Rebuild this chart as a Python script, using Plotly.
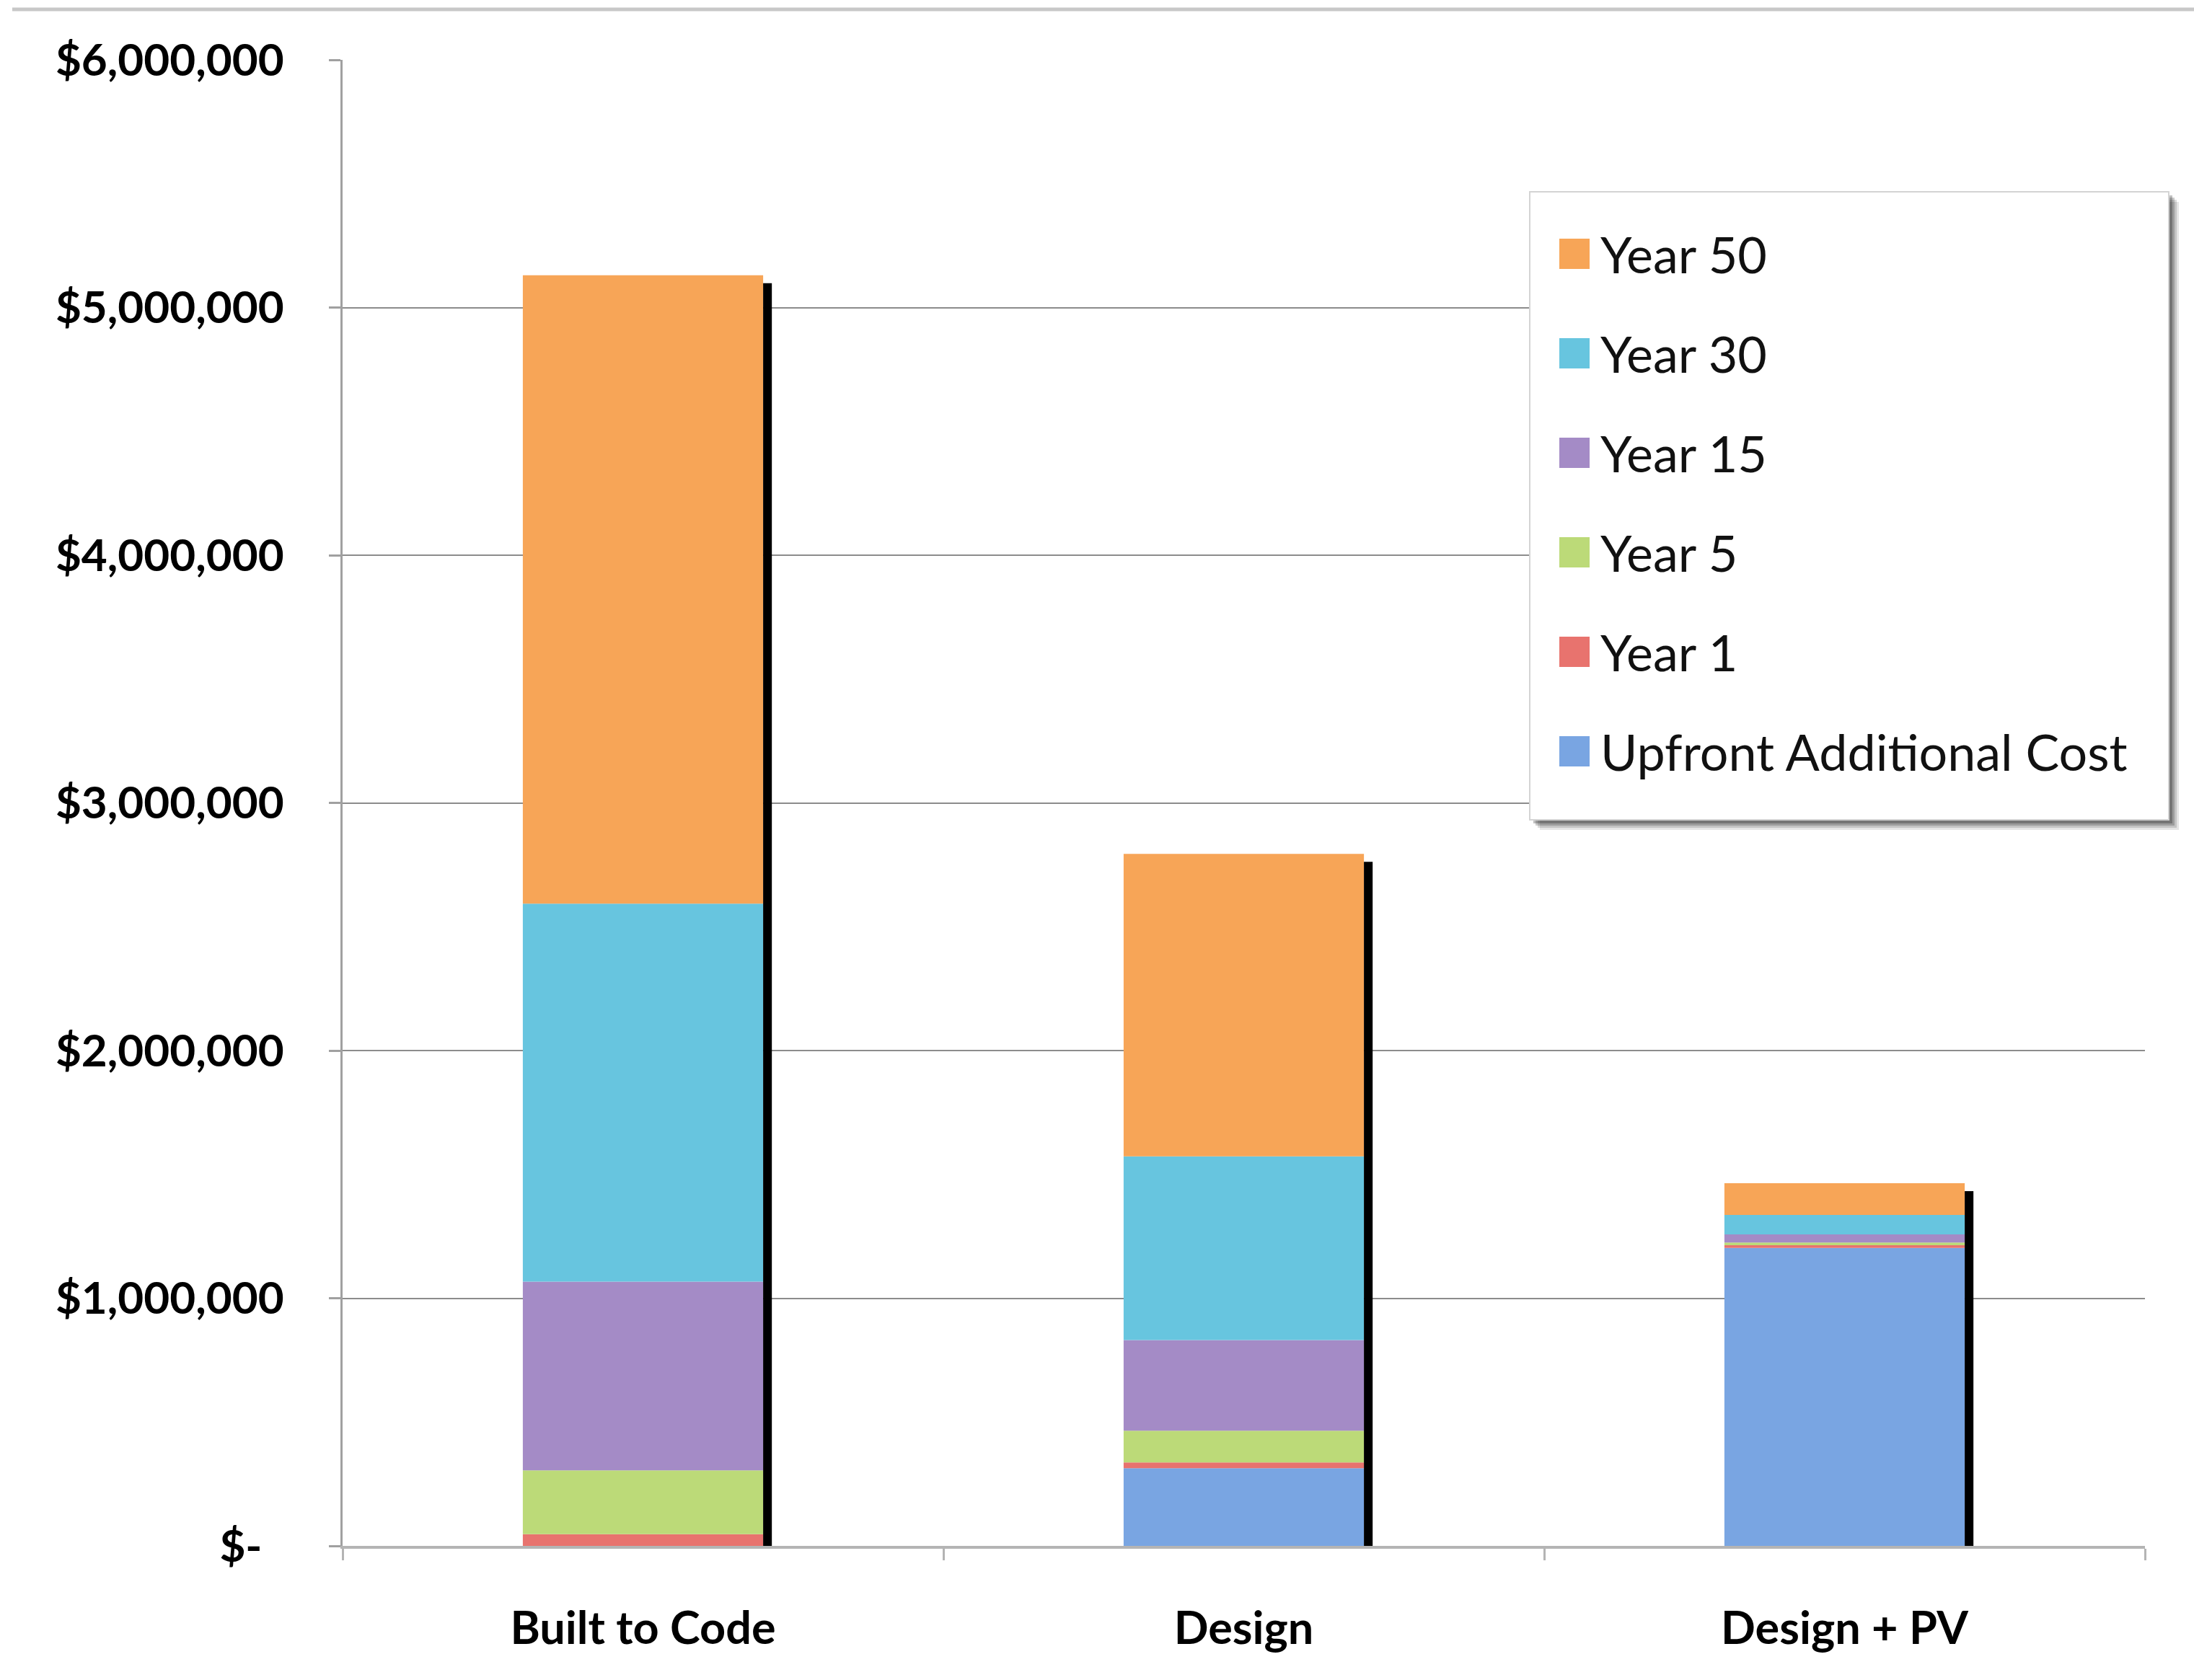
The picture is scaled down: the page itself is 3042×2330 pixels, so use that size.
import numpy as np
import plotly.graph_objects as go

# ---------------- data ----------------
categories = ["Built to Code", "Design", "Design + PV"]
series_names = ["Upfront Additional Cost", "Year 1", "Year 5", "Year 15", "Year 30", "Year 50"]
upfront = [0, 314000, 1203000]
year1 = [47000, 23000, 11000]
year5 = [258000, 128000, 11000]
year15 = [762000, 366000, 33000]
year30 = [1526000, 742000, 78000]
year50 = [2537000, 1221000, 128000]
series_values = [upfront, year1, year5, year15, year30, year50]
tick_vals = [0, 1000000, 2000000, 3000000, 4000000, 5000000, 6000000]
tick_text = ["$-\u00a0\u00a0", "$1,000,000", "$2,000,000", "$3,000,000",
             "$4,000,000", "$5,000,000", "$6,000,000"]

# ---------------- style ----------------
colors = ["#79a5e2", "#e8736e", "#bcda78", "#a48bc6", "#67c5df", "#f7a557"]
FONT = "Lato"
W, H = 3042, 2330
ML, MR, MT, MB = 475, 68, 83, 186
PW, PH = W - ML - MR, H - MT - MB


def px_x(px):
    return (px - ML) / PW


def px_y(py):
    return (H - MB - py) / PH


fig = go.Figure()
base = np.zeros(len(categories))
n = len(series_names)
for i, (name, vals, col) in enumerate(zip(series_names, series_values, colors)):
    v = np.array(vals, dtype=float)
    fig.add_trace(go.Bar(
        x=categories, y=v, base=base.copy(), name=name, legendgroup=name,
        legendrank=100 + (n - i) * 10,
        marker=dict(color=col, line=dict(width=0)), width=0.4,
    ))
    base = base + v

totals = base
# black edge shadow on the right side of each bar
fig.add_trace(go.Bar(
    x=categories, y=totals - 32000, base=np.zeros(len(categories)),
    width=0.0145, offset=0.2, marker=dict(color="#000000", line=dict(width=0)),
    showlegend=False, hoverinfo="skip",
))

# legend frame (box + soft drop shadow)
bx0, bx1, by0, by1 = 2121, 3007, 266, 1137
shapes = []
for off, alpha in [(14, 0.10), (11, 0.14), (8, 0.20), (5, 0.25)]:
    shapes.append(dict(type="rect", xref="paper", yref="paper", layer="above",
                       x0=px_x(bx0 + off), x1=px_x(bx1 + off),
                       y0=px_y(by1 + off), y1=px_y(by0 + off),
                       fillcolor=f"rgba(0,0,0,{alpha})", line=dict(width=0)))
shapes.append(dict(type="rect", xref="paper", yref="paper", layer="above",
                   x0=px_x(bx0), x1=px_x(bx1), y0=px_y(by1), y1=px_y(by0),
                   fillcolor="white", line=dict(color="#d4d4d4", width=2)))
# thin grey frame line at the very top of the slide
shapes.append(dict(type="line", xref="paper", yref="paper",
                   x0=px_x(17), x1=px_x(W), y0=px_y(13), y1=px_y(13),
                   line=dict(color="#c8c8c8", width=5)))

fig.update_layout(
    width=W, height=H, barmode="overlay",
    margin=dict(l=ML, r=MR, t=MT, b=MB, autoexpand=False),
    paper_bgcolor="white", plot_bgcolor="white",
    font=dict(family=FONT, color="#000000"),
    showlegend=True,
    legend=dict(
        x=px_x(2147), y=px_y(300), xanchor="left", yanchor="top",
        bgcolor="rgba(0,0,0,0)", borderwidth=0,
        font=dict(family=FONT, size=70, color="#111111"),
        traceorder="grouped", tracegroupgap=44, itemwidth=62,
    ),
    xaxis=dict(
        type="category", showline=True, linecolor="#b4b4b4", linewidth=4,
        ticks="outside", tickson="boundaries", ticklen=16, tickwidth=3,
        tickcolor="#b4b4b4", showgrid=False,
        tickfont=dict(family=FONT, size=63, color="#000000", weight="bold"),
        ticklabelstandoff=56,
    ),
    yaxis=dict(
        range=[0, 6000000], tickvals=tick_vals, ticktext=tick_text,
        showline=True, linecolor="#a0a0a0", linewidth=3,
        ticks="outside", ticklen=16, tickwidth=3, tickcolor="#a0a0a0",
        showgrid=True, gridcolor="#8c8c8c", gridwidth=2, zeroline=False,
        tickfont=dict(family=FONT, size=62, color="#000000", weight="bold"),
        ticklabelstandoff=50,
    ),
    shapes=shapes,
)

post = """
var gd = document.getElementById('{plot_id}');
function bigIcons(){
  gd.querySelectorAll('.legend .legendpoints path').forEach(function(p){
    if (p.getAttribute('data-big')) return;
    var t = p.getAttribute('transform') || '';
    p.setAttribute('transform', t + ' scale(3.5)');
    p.setAttribute('data-big', '1');
  });
}
bigIcons();
gd.on && gd.on('plotly_afterplot', bigIcons);
"""

fig.write_html("out.html", post_script=post)
